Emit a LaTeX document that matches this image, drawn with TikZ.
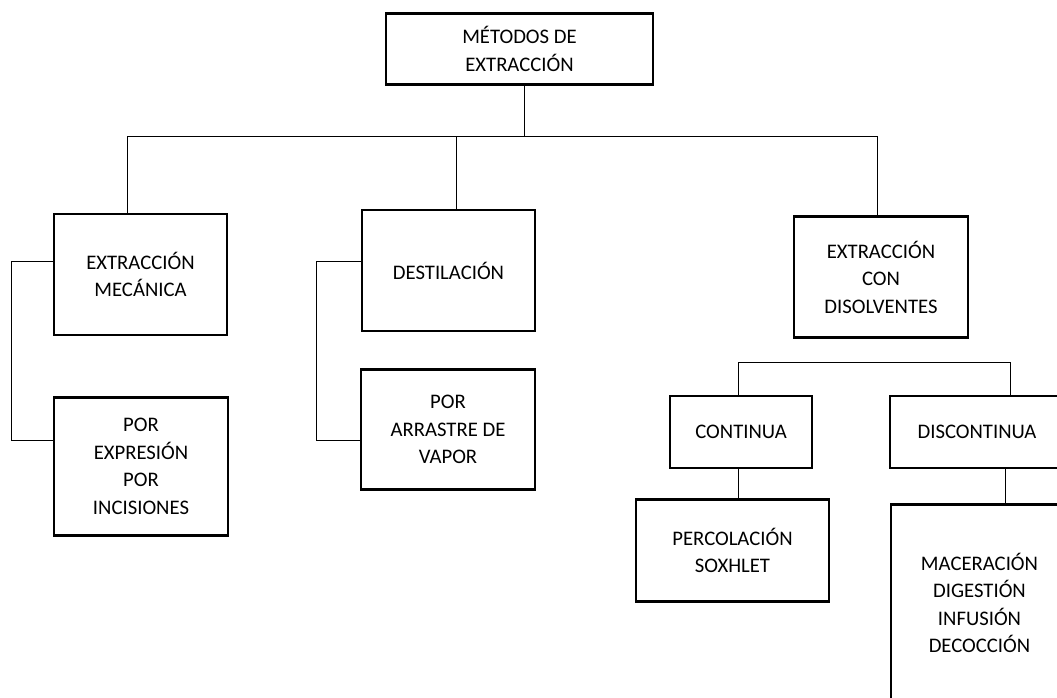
\documentclass[tikz,border=0pt]{standalone}
\usepackage{fontspec}
\setmainfont{Carlito}
\usepackage{tikz}
\tikzset{box/.style={draw, line width=2.1pt, inner sep=0pt, align=center, font=\fontsize{20.7}{27.5}\selectfont}}
\tikzset{link/.style={line width=0.9pt}}

\begin{document}
\begin{tikzpicture}[x=1pt, y=-1pt]
    \clip (0,0) rectangle (1057,697);
    % boxes
    \node[box, minimum width=267pt, minimum height=71pt] (metodos) at (519.5,49) {MÉTODOS DE\\EXTRACCIÓN};
    \node[box, minimum width=173pt, minimum height=121pt] (mecanica) at (140.5,274.5) {EXTRACCIÓN\\MECÁNICA};
    \node[box, minimum width=173pt, minimum height=121pt] (destilacion) at (448.5,270.5) {DESTILACIÓN};
    \node[box, minimum width=174pt, minimum height=121pt] (disolventes) at (881,277) {EXTRACCIÓN\\CON\\DISOLVENTES};
    \node[box, minimum width=174pt, minimum height=138pt] (expresion) at (141,466.5) {POR\\EXPRESIÓN\\POR\\INCISIONES};
    \node[box, minimum width=174pt, minimum height=120pt] (arrastre) at (448,429.5) {POR\\ARRASTRE DE\\VAPOR};
    \node[box, minimum width=142pt, minimum height=72pt] (continua) at (741,432) {CONTINUA};
    \node[box, minimum width=174pt, minimum height=72pt] (discontinua) at (977,432) {DISCONTINUA};
    \node[box, minimum width=193pt, minimum height=102pt] (percolacion) at (732.5,550.5) {PERCOLACIÓN\\SOXHLET};
    \node[box, minimum width=177pt, minimum height=197pt] (maceracion) at (979.5,603) {MACERACIÓN\\DIGESTIÓN\\INFUSIÓN\\DECOCCIÓN};
    % junction points
    \coordinate (j0) at (524,136);
    \coordinate (jl) at (127,136);
    \coordinate (jd) at (456,136);
    \coordinate (jr) at (877,136);
    \coordinate (b1) at (11,261);
    \coordinate (b2) at (11,440);
    \coordinate (b3) at (316,261);
    \coordinate (b4) at (316,440);
    \coordinate (s1) at (738,362);
    \coordinate (s2) at (1010,362);
    \coordinate (d1) at (1005,468);
    % connectors
    \draw[link] (metodos.south -| j0) -- (j0);
    \draw[link] (jl) -- (jr);
    \draw[link] (jl) -- (mecanica.north -| jl);
    \draw[link] (jd) -- (destilacion.north -| jd);
    \draw[link] (jr) -- (disolventes.north -| jr);
    \draw[link] (mecanica.west |- b1) -- (b1) -- (b2) -- (expresion.west |- b2);
    \draw[link] (destilacion.west |- b3) -- (b3) -- (b4) -- (arrastre.west |- b4);
    \draw[link] (continua.north -| s1) -- (s1) -- (s2) -- (discontinua.north -| s2);
    \draw[link] (continua.south -| s1) -- (percolacion.north -| s1);
    \draw[link] (discontinua.south -| d1) -- (maceracion.north -| d1);
\end{tikzpicture}
\end{document}
